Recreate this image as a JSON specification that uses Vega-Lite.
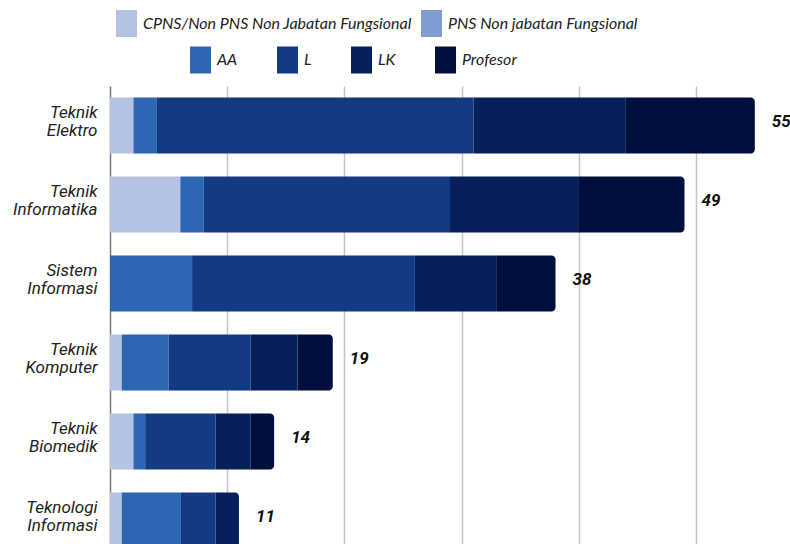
{
  "$schema": "https://vega.github.io/schema/vega-lite/v6.json",
  "width": 680,
  "height": 474,
  "autosize": "none",
  "padding": {"left": 110, "top": 86, "right": 0, "bottom": 0},
  "background": "white",
  "config": {"view": {"stroke": null}, "font": "Roboto"},
  "data": {
    "values": [
      {"Prodi": "Teknik Elektro", "Kategori": "CPNS/Non PNS Non Jabatan Fungsional", "Grup": 1, "Urut": 1, "Jumlah": 2},
      {"Prodi": "Teknik Elektro", "Kategori": "AA", "Grup": 2, "Urut": 3, "Jumlah": 2},
      {"Prodi": "Teknik Elektro", "Kategori": "L", "Grup": 2, "Urut": 4, "Jumlah": 27},
      {"Prodi": "Teknik Elektro", "Kategori": "LK", "Grup": 2, "Urut": 5, "Jumlah": 13},
      {"Prodi": "Teknik Elektro", "Kategori": "Profesor", "Grup": 2, "Urut": 6, "Jumlah": 11},
      {"Prodi": "Teknik Informatika", "Kategori": "CPNS/Non PNS Non Jabatan Fungsional", "Grup": 1, "Urut": 1, "Jumlah": 6},
      {"Prodi": "Teknik Informatika", "Kategori": "AA", "Grup": 2, "Urut": 3, "Jumlah": 2},
      {"Prodi": "Teknik Informatika", "Kategori": "L", "Grup": 2, "Urut": 4, "Jumlah": 21},
      {"Prodi": "Teknik Informatika", "Kategori": "LK", "Grup": 2, "Urut": 5, "Jumlah": 11},
      {"Prodi": "Teknik Informatika", "Kategori": "Profesor", "Grup": 2, "Urut": 6, "Jumlah": 9},
      {"Prodi": "Sistem Informasi", "Kategori": "AA", "Grup": 2, "Urut": 3, "Jumlah": 7},
      {"Prodi": "Sistem Informasi", "Kategori": "L", "Grup": 2, "Urut": 4, "Jumlah": 19},
      {"Prodi": "Sistem Informasi", "Kategori": "LK", "Grup": 2, "Urut": 5, "Jumlah": 7},
      {"Prodi": "Sistem Informasi", "Kategori": "Profesor", "Grup": 2, "Urut": 6, "Jumlah": 5},
      {"Prodi": "Teknik Komputer", "Kategori": "CPNS/Non PNS Non Jabatan Fungsional", "Grup": 1, "Urut": 1, "Jumlah": 1},
      {"Prodi": "Teknik Komputer", "Kategori": "AA", "Grup": 2, "Urut": 3, "Jumlah": 4},
      {"Prodi": "Teknik Komputer", "Kategori": "L", "Grup": 2, "Urut": 4, "Jumlah": 7},
      {"Prodi": "Teknik Komputer", "Kategori": "LK", "Grup": 2, "Urut": 5, "Jumlah": 4},
      {"Prodi": "Teknik Komputer", "Kategori": "Profesor", "Grup": 2, "Urut": 6, "Jumlah": 3},
      {"Prodi": "Teknik Biomedik", "Kategori": "CPNS/Non PNS Non Jabatan Fungsional", "Grup": 1, "Urut": 1, "Jumlah": 2},
      {"Prodi": "Teknik Biomedik", "Kategori": "AA", "Grup": 2, "Urut": 3, "Jumlah": 1},
      {"Prodi": "Teknik Biomedik", "Kategori": "L", "Grup": 2, "Urut": 4, "Jumlah": 6},
      {"Prodi": "Teknik Biomedik", "Kategori": "LK", "Grup": 2, "Urut": 5, "Jumlah": 3},
      {"Prodi": "Teknik Biomedik", "Kategori": "Profesor", "Grup": 2, "Urut": 6, "Jumlah": 2},
      {"Prodi": "Teknologi Informasi", "Kategori": "CPNS/Non PNS Non Jabatan Fungsional", "Grup": 1, "Urut": 1, "Jumlah": 1},
      {"Prodi": "Teknologi Informasi", "Kategori": "AA", "Grup": 2, "Urut": 3, "Jumlah": 5},
      {"Prodi": "Teknologi Informasi", "Kategori": "L", "Grup": 2, "Urut": 4, "Jumlah": 3},
      {"Prodi": "Teknologi Informasi", "Kategori": "LK", "Grup": 2, "Urut": 5, "Jumlah": 2}
    ]
  },
  "transform": [
    {"stack": "Jumlah", "groupby": ["Prodi"], "sort": [{"field": "Urut", "order": "ascending"}], "as": ["x0", "x1"]},
    {"joinaggregate": [{"op": "max", "field": "Urut", "as": "MaxUrut"}], "groupby": ["Prodi"]}
  ],
  "encoding": {
    "y": {
      "field": "Prodi",
      "type": "nominal",
      "sort": ["Teknik Elektro", "Teknik Informatika", "Sistem Informasi", "Teknik Komputer", "Teknik Biomedik", "Teknologi Informasi"],
      "scale": {"paddingInner": 0.291, "paddingOuter": 0.1455},
      "axis": {
        "title": null,
        "labelExpr": "split(datum.label, ' ')",
        "labelFont": "Roboto",
        "labelFontStyle": "italic",
        "labelFontSize": 17,
        "labelColor": "#222222",
        "labelLineHeight": 18.5,
        "labelPadding": 13,
        "labelOffset": -13,
        "ticks": false,
        "domain": true,
        "domainColor": "#777777",
        "domainWidth": 1.5
      }
    }
  },
  "layer": [
    {
      "transform": [{"filter": "datum.Grup == 1"}],
      "mark": {"type": "bar"},
      "encoding": {
        "x": {
          "field": "x0",
          "type": "quantitative",
          "scale": {"domain": [0, 58], "nice": false},
          "axis": {"title": null, "labels": false, "ticks": false, "domain": false, "grid": true, "values": [10, 20, 30, 40, 50], "gridColor": "#c6c6c6", "gridWidth": 1.5}
        },
        "x2": {"field": "x1"},
        "color": {
          "field": "Kategori",
          "type": "nominal",
          "scale": {"domain": ["CPNS/Non PNS Non Jabatan Fungsional", "PNS Non jabatan Fungsional"], "range": ["#b4c3e3", "#7e9ed3"]},
          "legend": {
            "orient": "none",
            "legendX": 3,
            "legendY": -76,
            "direction": "horizontal",
            "columns": 2,
            "title": null,
            "padding": 0,
            "symbolType": "M-0.78,-1H0.78V1H-0.78Z",
            "symbolSize": 729,
            "symbolStrokeWidth": 0,
            "symbolOpacity": 1,
            "labelFont": "Lato",
            "labelFontStyle": "italic",
            "labelFontSize": 16,
            "labelColor": "#222222",
            "labelOffset": 3,
            "columnPadding": 6,
            "labelLimit": 400
          }
        }
      }
    },
    {
      "transform": [{"filter": "datum.Grup == 2 && datum.Urut < datum.MaxUrut"}],
      "mark": {"type": "bar"},
      "encoding": {
        "x": {"field": "x0", "type": "quantitative"},
        "x2": {"field": "x1"},
        "color": {
          "field": "Kategori",
          "type": "nominal",
          "scale": {"domain": ["AA", "L", "LK", "Profesor"], "range": ["#2d66b2", "#123b84", "#06215a", "#000f3b"]},
          "legend": {
            "orient": "none",
            "legendX": 77,
            "legendY": -39.5,
            "direction": "horizontal",
            "columns": 4,
            "title": null,
            "padding": 0,
            "symbolType": "M-0.78,-1H0.78V1H-0.78Z",
            "symbolSize": 729,
            "symbolStrokeWidth": 0,
            "symbolOpacity": 1,
            "labelFont": "Lato",
            "labelFontStyle": "italic",
            "labelFontSize": 16,
            "labelColor": "#222222",
            "labelOffset": 3,
            "columnPadding": 36
          }
        }
      }
    },
    {
      "transform": [{"filter": "datum.Urut == datum.MaxUrut"}],
      "mark": {"type": "bar", "cornerRadiusTopRight": 4, "cornerRadiusBottomRight": 4},
      "encoding": {
        "x": {"field": "x0", "type": "quantitative"},
        "x2": {"field": "x1"},
        "color": {
          "field": "Kategori",
          "type": "nominal",
          "scale": {"domain": ["AA", "L", "LK", "Profesor"], "range": ["#2d66b2", "#123b84", "#06215a", "#000f3b"]},
          "legend": null
        }
      }
    },
    {
      "transform": [{"aggregate": [{"op": "sum", "field": "Jumlah", "as": "Total"}], "groupby": ["Prodi"]}],
      "mark": {"type": "text", "align": "left", "baseline": "middle", "dx": 17, "dy": -4, "font": "Roboto", "fontStyle": "italic", "fontWeight": "bold", "fontSize": 17, "color": "#111111"},
      "encoding": {
        "x": {"field": "Total", "type": "quantitative"},
        "text": {"field": "Total", "type": "quantitative"}
      }
    }
  ],
  "resolve": {"scale": {"color": "independent"}}
}
